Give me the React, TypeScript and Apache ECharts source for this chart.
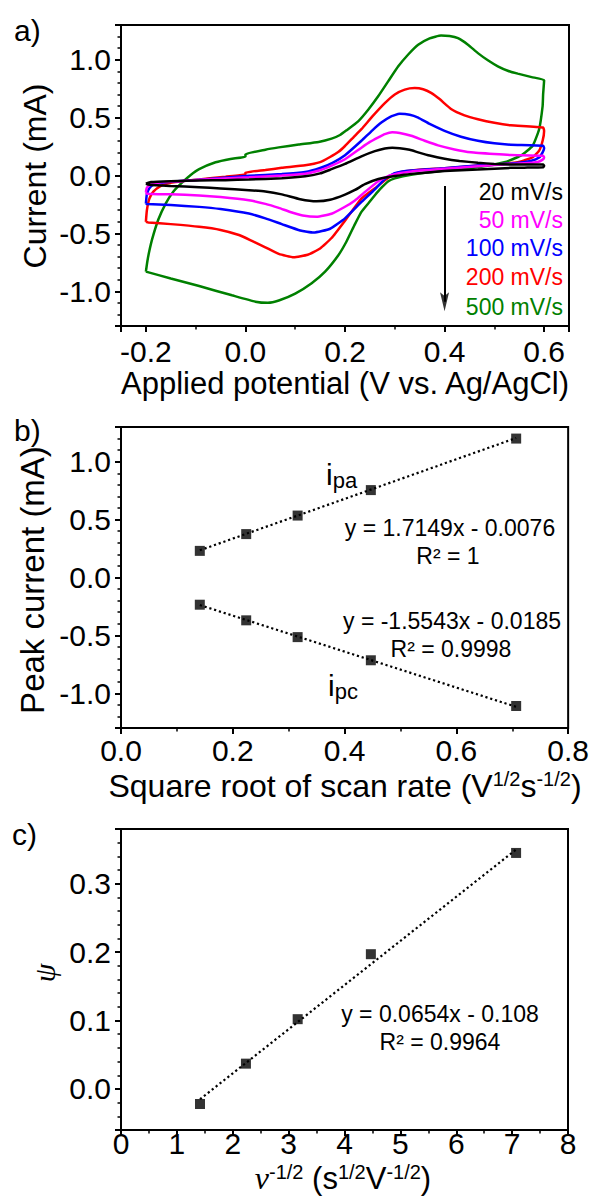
import React, { useEffect, useRef } from "react";
import * as echarts from "echarts";

const FONT = '"Liberation Sans", Arial, Helvetica, sans-serif';
const SERIF = '"Liberation Serif", "DejaVu Serif", serif';

// ---------- Panel a: cyclic voltammograms ----------
const scanRateLabels = ["20 mV/s", "50 mV/s", "100 mV/s", "200 mV/s", "500 mV/s"];
const scanRateColors = ["#000000", "#ff00ff", "#0000ff", "#ff0000", "#008000"];

const cv20 = [
  [-0.2, -0.071], [-0.19, -0.056], [-0.15, -0.049], [-0.093, -0.044], [-0.04, -0.04], [0.007, -0.035],
  [0.073, -0.024], [0.12, -0.007], [0.15, 0.018], [0.17, 0.05], [0.2, 0.1], [0.233, 0.165], [0.26, 0.21],
  [0.28, 0.233], [0.295, 0.24], [0.31, 0.236], [0.33, 0.222], [0.347, 0.2], [0.37, 0.172], [0.4, 0.145],
  [0.43, 0.126], [0.467, 0.11], [0.5, 0.1], [0.533, 0.095], [0.598, 0.094], [0.6, 0.085], [0.598, 0.072],
  [0.56, 0.068], [0.533, 0.066], [0.467, 0.052], [0.4, 0.038], [0.333, 0.014], [0.3, -0.005], [0.267, -0.03],
  [0.24, -0.075], [0.22, -0.125], [0.2, -0.165], [0.17, -0.21], [0.143, -0.223], [0.11, -0.205], [0.073, -0.163],
  [0.04, -0.138], [0.007, -0.127], [-0.05, -0.112], [-0.093, -0.101], [-0.15, -0.09], [-0.193, -0.08], [-0.2, -0.071],
];
const cv50 = [
  [-0.2, -0.143], [-0.198, -0.105], [-0.19, -0.076], [-0.175, -0.063], [-0.16, -0.057], [-0.093, -0.037],
  [0.007, -0.016], [0.073, 0.0], [0.12, 0.016], [0.15, 0.045], [0.173, 0.085], [0.2, 0.14], [0.233, 0.24],
  [0.25, 0.29], [0.267, 0.33], [0.28, 0.358], [0.295, 0.373], [0.31, 0.368], [0.333, 0.343], [0.36, 0.3],
  [0.387, 0.26], [0.42, 0.225], [0.453, 0.2], [0.5, 0.185], [0.533, 0.177], [0.598, 0.171], [0.6, 0.155],
  [0.597, 0.137], [0.587, 0.117], [0.56, 0.105], [0.533, 0.1], [0.467, 0.08], [0.4, 0.058], [0.333, 0.034],
  [0.29, 0.0], [0.267, -0.05], [0.24, -0.143], [0.22, -0.215], [0.2, -0.27], [0.173, -0.33], [0.143, -0.357],
  [0.115, -0.345], [0.09, -0.315], [0.067, -0.28], [0.04, -0.245], [0.007, -0.214], [-0.05, -0.186],
  [-0.093, -0.172], [-0.15, -0.163], [-0.198, -0.157], [-0.2, -0.143],
];
const cv100 = [
  [-0.2, -0.243], [-0.198, -0.16], [-0.193, -0.11], [-0.185, -0.08], [-0.16, -0.058], [-0.093, -0.036],
  [0.007, -0.002], [0.073, 0.012], [0.12, 0.03], [0.15, 0.065], [0.175, 0.11], [0.2, 0.175], [0.233, 0.3],
  [0.255, 0.39], [0.273, 0.457], [0.29, 0.505], [0.31, 0.533], [0.33, 0.525], [0.347, 0.5], [0.37, 0.445],
  [0.4, 0.386], [0.433, 0.335], [0.467, 0.3], [0.5, 0.278], [0.533, 0.266], [0.598, 0.257], [0.6, 0.235],
  [0.597, 0.2], [0.59, 0.155], [0.573, 0.125], [0.55, 0.11], [0.533, 0.103], [0.467, 0.087], [0.4, 0.063],
  [0.333, 0.043], [0.3, 0.02], [0.28, -0.03], [0.26, -0.12], [0.233, -0.228], [0.2, -0.37], [0.17, -0.46],
  [0.137, -0.493], [0.11, -0.475], [0.073, -0.42], [0.04, -0.37], [0.007, -0.329], [-0.05, -0.29],
  [-0.093, -0.271], [-0.15, -0.255], [-0.198, -0.247], [-0.2, -0.243],
];
const cv200 = [
  [-0.2, -0.4], [-0.198, -0.3], [-0.193, -0.2], [-0.185, -0.14], [-0.17, -0.09], [-0.153, -0.066],
  [-0.12, -0.046], [-0.093, -0.035], [-0.04, -0.01], [0.0, 0.01], [0.0, 0.025], [0.04, 0.047], [0.073, 0.066],
  [0.12, 0.088], [0.15, 0.115], [0.17, 0.16], [0.187, 0.205], [0.2, 0.255], [0.217, 0.33], [0.233, 0.4],
  [0.255, 0.51], [0.28, 0.625], [0.3, 0.7], [0.32, 0.742], [0.34, 0.755], [0.357, 0.745], [0.373, 0.714],
  [0.39, 0.66], [0.413, 0.575], [0.44, 0.52], [0.467, 0.486], [0.5, 0.455], [0.533, 0.434], [0.598, 0.414],
  [0.6, 0.385], [0.597, 0.3], [0.59, 0.214], [0.577, 0.157], [0.56, 0.13], [0.547, 0.114], [0.5, 0.095],
  [0.467, 0.086], [0.4, 0.063], [0.333, 0.043], [0.3, 0.015], [0.287, -0.02], [0.26, -0.11], [0.233, -0.2],
  [0.2, -0.39], [0.173, -0.54], [0.15, -0.63], [0.125, -0.685], [0.097, -0.707], [0.067, -0.677], [0.04, -0.62],
  [0.013, -0.565], [-0.013, -0.514], [-0.05, -0.47], [-0.093, -0.443], [-0.15, -0.42], [-0.195, -0.405], [-0.2, -0.4],
];
const cv500 = [
  [-0.2, -0.83], [-0.197, -0.74], [-0.193, -0.65], [-0.187, -0.543], [-0.175, -0.38], [-0.16, -0.24],
  [-0.145, -0.14], [-0.127, -0.06], [-0.11, 0.005], [-0.093, 0.055], [-0.06, 0.114], [-0.03, 0.143],
  [0.0, 0.163], [0.0, 0.183], [0.04, 0.223], [0.067, 0.243], [0.107, 0.268], [0.147, 0.29], [0.173, 0.318],
  [0.19, 0.35], [0.203, 0.39], [0.227, 0.47], [0.247, 0.57], [0.267, 0.686], [0.287, 0.815], [0.307, 0.943],
  [0.327, 1.045], [0.347, 1.129], [0.37, 1.185], [0.393, 1.209], [0.41, 1.205], [0.427, 1.186], [0.447, 1.13],
  [0.467, 1.057], [0.487, 0.995], [0.507, 0.943], [0.527, 0.905], [0.547, 0.88], [0.575, 0.85], [0.6, 0.823],
  [0.598, 0.7], [0.597, 0.6], [0.59, 0.4], [0.577, 0.257], [0.553, 0.171], [0.52, 0.114], [0.467, 0.071],
  [0.4, 0.043], [0.333, 0.006], [0.3, -0.025], [0.287, -0.05], [0.27, -0.12], [0.26, -0.17], [0.247, -0.24],
  [0.233, -0.314], [0.22, -0.42], [0.203, -0.57], [0.187, -0.686], [0.16, -0.83], [0.133, -0.93], [0.1, -1.02],
  [0.067, -1.08], [0.045, -1.1], [0.02, -1.09], [-0.027, -1.035], [-0.093, -0.955], [-0.15, -0.89], [-0.2, -0.83],
];
const cvCurves = [cv20, cv50, cv100, cv200, cv500];
const arrowFrom = [0.4, -0.09];
const arrowHead = [0.4, -1.09];

// ---------- Panel b: peak currents ----------
const sqrtScanRate = [0.141, 0.224, 0.316, 0.447, 0.707];
const anodicPeak = [0.23, 0.375, 0.535, 0.755, 1.2];
const cathodicPeak = [-0.235, -0.37, -0.515, -0.715, -1.11];
const anodicFit = [[0.141, 0.235], [0.707, 1.205]];
const cathodicFit = [[0.141, -0.238], [0.707, -1.117]];

// ---------- Panel c: psi ----------
const invSqrtScanRate = [1.414, 2.236, 3.162, 4.472, 7.071];
const psiValues = [-0.022, 0.037, 0.102, 0.197, 0.345];
const psiFit = [[1.414, -0.015], [7.071, 0.35]];

const legendY = [192, 220, 248, 277, 307];

function axisCfg(o: any) {
  const label: any = { color: "#000", fontSize: 30, fontFamily: FONT, margin: o.margin, formatter: o.fmt };
  if (o.lh) label.lineHeight = o.lh;
  if (o.hideEdges) {
    label.showMinLabel = false;
    label.showMaxLabel = false;
  }
  return {
    type: "value",
    gridIndex: o.grid,
    min: o.min,
    max: o.max,
    interval: o.interval,
    splitNumber: o.splitNumber,
    axisLine: { show: true, onZero: false, lineStyle: { color: "#000", width: 2 } },
    axisTick: { show: true, inside: false, length: 6, lineStyle: { color: "#000", width: 2 } },
    minorTick: { show: true, splitNumber: o.minor, length: 3.5, lineStyle: { color: "#000", width: 1.5 } },
    splitLine: { show: false },
    minorSplitLine: { show: false },
    axisLabel: label,
  };
}

function T(text: string, x: number, y: number, o: any = {}) {
  const style: any = {
    text,
    fill: o.fill || "#000",
    fontSize: o.size || 30,
    fontFamily: o.family || FONT,
    fontStyle: o.italic ? "italic" : "normal",
    textAlign: o.align || "center",
    textVerticalAlign: "middle",
  };
  if (o.lh) style.lineHeight = o.lh;
  if (o.rich) style.rich = o.rich;
  return { type: "text", x, y, rotation: o.rot || 0, silent: true, z: 100, style };
}

const supStyle = (size: number, lh: number) => ({ fontSize: size, lineHeight: lh, verticalAlign: "top", fontFamily: FONT, fill: "#000" });
const subStyle = (size: number) => ({ fontSize: size, lineHeight: size, verticalAlign: "bottom", fontFamily: FONT, fill: "#000" });

function buildOption() {
  const f1 = (v: number) => v.toFixed(1);
  const f0 = (v: number) => String(Math.round(v));
  const grids = [
    { left: 121, top: 25, width: 448, height: 301 },
    { left: 121, top: 427, width: 448, height: 301 },
    { left: 121, top: 829, width: 447, height: 301 },
  ].map((g) => ({ ...g, show: true, borderColor: "#000", borderWidth: 2, backgroundColor: "transparent", containLabel: false }));

  const series: any[] = [];
  cvCurves.forEach((d, i) => {
    const s: any = {
      type: "line",
      name: scanRateLabels[i],
      xAxisIndex: 0,
      yAxisIndex: 0,
      data: d,
      showSymbol: false,
      symbol: "none",
      smooth: 0.15,
      lineStyle: { color: scanRateColors[i], width: 2.5 },
      itemStyle: { color: scanRateColors[i] },
      z: 10 - i,
    };
    if (i === 0) {
      s.markLine = {
        silent: true,
        symbol: ["none", "none"],
        label: { show: false },
        lineStyle: { color: "#000", width: 2, type: "solid" },
        data: [[{ coord: arrowFrom }, { coord: arrowHead }]],
      };
    }
    series.push(s);
  });
  // arrow head
  series.push({
    type: "scatter",
    xAxisIndex: 0,
    yAxisIndex: 0,
    data: [arrowHead],
    symbol: "path://M0,0 L5,4 L10,0 L5,20 Z",
    symbolKeepAspect: false,
    symbolSize: [9, 19],
    itemStyle: { color: "#000" },
    silent: true,
    z: 20,
  });

  const fitLine = (data: number[][], xi: number) => ({
    type: "line",
    xAxisIndex: xi,
    yAxisIndex: xi,
    data,
    showSymbol: false,
    symbol: "none",
    lineStyle: { color: "#000", width: 2.2, type: [2.2, 2.8] },
    z: 5,
  });
  const pts = (xs: number[], ys: number[], xi: number) => ({
    type: "scatter",
    xAxisIndex: xi,
    yAxisIndex: xi,
    data: xs.map((x, i) => [x, ys[i]]),
    symbol: "rect",
    symbolSize: 10,
    itemStyle: { color: "#000" },
    z: 10,
  });
  series.push(fitLine(anodicFit, 1), fitLine(cathodicFit, 1), pts(sqrtScanRate, anodicPeak, 1), pts(sqrtScanRate, cathodicPeak, 1));
  series.push(fitLine(psiFit, 2), pts(invSqrtScanRate, psiValues, 2));

  const graphics: any[] = [
    T("a)", 14, 30, { align: "left", size: 30 }),
    T("b)", 14, 430, { align: "left", size: 30 }),
    T("c)", 12, 834, { align: "left", size: 30 }),
    T("Applied potential (V vs. Ag/AgCl)", 345, 383, { size: 31 }),
    T("Current (mA)", 35, 176, { size: 32, rot: Math.PI / 2 }),
    ...scanRateLabels.map((l, i) => T(l, 563, legendY[i], { align: "right", size: 23, fill: scanRateColors[i] })),
    T("Square root of scan rate (V{sup|1/2}s{sup|-1/2})", 345, 786, { size: 32, lh: 34, rich: { sup: supStyle(20, 18) } }),
    T("Peak current (mA)", 32, 580, { size: 33, rot: Math.PI / 2 }),
    T("i{sub|pa}", 326, 474, { align: "left", size: 30, lh: 34, rich: { sub: subStyle(22) } }),
    T("y = 1.7149x - 0.0076", 450, 528, { size: 23 }),
    T("R² = 1", 448, 556, { size: 23 }),
    T("y = -1.5543x - 0.0185", 452, 621, { size: 23 }),
    T("R² = 0.9998", 451, 649, { size: 23 }),
    T("i{sub|pc}", 328, 685, { align: "left", size: 30, lh: 34, rich: { sub: subStyle(22) } }),
    T("y = 0.0654x - 0.108", 440, 1014, { size: 23 }),
    T("R² = 0.9964", 440, 1042, { size: 23 }),
    T("{nu|ν}{sup|-1/2} (s{sup|1/2}V{sup|-1/2})", 343, 1178, {
      size: 31,
      lh: 32,
      rich: {
        nu: { fontFamily: SERIF, fontStyle: "italic", fontSize: 32, lineHeight: 32, fill: "#000" },
        sup: supStyle(20, 17),
      },
    }),
    T("ψ", 44, 973, { size: 30, family: SERIF, italic: true, rot: Math.PI / 2 }),
  ];

  return {
    animation: false,
    backgroundColor: "#fff",
    grid: grids,
    xAxis: [
      axisCfg({ grid: 0, min: -0.25, max: 0.65, splitNumber: 5, minor: 2, margin: 10, fmt: f1, hideEdges: true }),
      axisCfg({ grid: 1, min: 0, max: 0.8, interval: 0.2, minor: 2, margin: 12, lh: 20, fmt: f1 }),
      axisCfg({ grid: 2, min: 0, max: 8, interval: 1, minor: 2, margin: 3, lh: 20, fmt: f0 }),
    ],
    yAxis: [
      axisCfg({ grid: 0, min: -1.3, max: 1.3, splitNumber: 5, minor: 5, margin: 10, fmt: f1, hideEdges: true }),
      axisCfg({ grid: 1, min: -1.3, max: 1.3, splitNumber: 5, minor: 5, margin: 10, fmt: f1, hideEdges: true }),
      axisCfg({ grid: 2, min: -0.06, max: 0.38, splitNumber: 5, minor: 5, margin: 10, fmt: f1, hideEdges: true }),
    ],
    series,
    graphic: graphics,
  };
}

export default function App() {
  const ref = useRef<HTMLDivElement>(null);
  useEffect(() => {
    if (!ref.current) return;
    const chart = echarts.init(ref.current, null, { renderer: "svg" });
    chart.setOption(buildOption() as any);
    return () => chart.dispose();
  }, []);
  return (
    <div
      ref={ref}
      style={{ position: "absolute", left: 0, top: 0, width: 592, height: 1197, background: "#fff" }}
    />
  );
}
